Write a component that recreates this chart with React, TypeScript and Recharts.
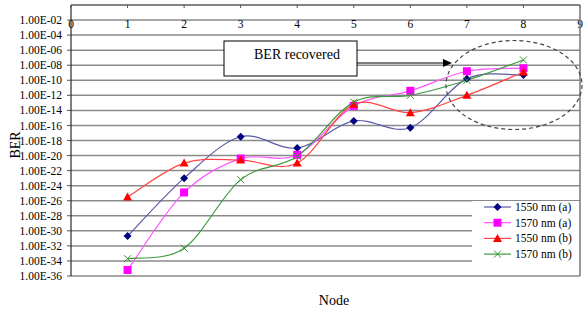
import React from 'react'
import { LineChart, Line, XAxis, YAxis, CartesianGrid, Legend } from 'recharts'

// nodes along the link
const nodes = [1, 2, 3, 4, 5, 6, 7, 8]

// log10(BER) for each node
const ber1550a = [-30.7, -23.0, -17.5, -19.0, -15.4, -16.3, -9.8, -9.3]
const ber1570a = [-35.2, -24.9, -20.4, -19.9, -13.4, -11.4, -8.8, -8.4]
const ber1550b = [-25.5, -21.0, -20.6, -21.0, -13.2, -14.3, -12.0, -8.9]
const ber1570b = [-33.7, -32.3, -23.2, -20.1, -12.9, -12.0, -10.0, -7.3]

const xTicks = [0, 1, 2, 3, 4, 5, 6, 7, 8, 9]
const yTicks = [-36, -34, -32, -30, -28, -26, -24, -22, -20, -18, -16, -14, -12, -10, -8, -6, -4, -2]

const data = nodes.map((node, i) => ({
  node,
  a1550: ber1550a[i],
  a1570: ber1570a[i],
  b1550: ber1550b[i],
  b1570: ber1570b[i],
}))

const series = [
  { key: 'a1550', name: '1550 nm (a)', line: '#5a5aa8', marker: '#000080', shape: 'diamond' },
  { key: 'a1570', name: '1570 nm (a)', line: '#ff55ff', marker: '#ff00ff', shape: 'square' },
  { key: 'b1550', name: '1550 nm (b)', line: '#ff4545', marker: '#ff0000', shape: 'triangle' },
  { key: 'b1570', name: '1570 nm (b)', line: '#3d9a3d', marker: '#339933', shape: 'cross' },
]

const FONT = "'Liberation Serif', 'Times New Roman', serif"

// Excel-like smoothed line (catmull-rom style bezier)
function excelSmooth(context: any) {
  let pts: number[][] = []
  return {
    areaStart() {},
    areaEnd() {},
    lineStart() {
      pts = []
    },
    point(x: number, y: number) {
      pts.push([+x, +y])
    },
    lineEnd() {
      const n = pts.length
      if (!n) return
      context.moveTo(pts[0][0], pts[0][1])
      const t = 1 / 6
      for (let i = 0; i < n - 1; i++) {
        const p0 = pts[Math.max(i - 1, 0)]
        const p1 = pts[i]
        const p2 = pts[i + 1]
        const p3 = pts[Math.min(i + 2, n - 1)]
        context.bezierCurveTo(
          p1[0] + (p2[0] - p0[0]) * t,
          p1[1] + (p2[1] - p0[1]) * t,
          p2[0] - (p3[0] - p1[0]) * t,
          p2[1] - (p3[1] - p1[1]) * t,
          p2[0],
          p2[1]
        )
      }
    },
  }
}

function Marker({ cx, cy, shape, color }: any) {
  if (cx == null || cy == null) return null
  if (shape === 'diamond')
    return <polygon points={`${cx},${cy - 4} ${cx + 4},${cy} ${cx},${cy + 4} ${cx - 4},${cy}`} fill={color} />
  if (shape === 'square') return <rect x={cx - 4} y={cy - 4} width={8} height={8} fill={color} />
  if (shape === 'triangle')
    return <polygon points={`${cx},${cy - 4.5} ${cx + 4.5},${cy + 3.5} ${cx - 4.5},${cy + 3.5}`} fill={color} />
  return (
    <g stroke={color} strokeWidth={1}>
      <line x1={cx - 3.5} y1={cy - 3.5} x2={cx + 3.5} y2={cy + 3.5} />
      <line x1={cx - 3.5} y1={cy + 3.5} x2={cx + 3.5} y2={cy - 3.5} />
    </g>
  )
}

const fmtBer = (v: number) => `1.00E-${String(Math.abs(v)).padStart(2, '0')}`

function TopTick({ x, payload }: any) {
  return (
    <g>
      <line x1={x} x2={x} y1={5} y2={8} stroke="#555" />
      <text x={x} y={28} textAnchor="middle" fontSize={11.5} fontFamily={FONT} fill="#000">
        {payload.value}
      </text>
    </g>
  )
}

function LegendBox() {
  return (
    <div style={{ background: '#fff', width: 108, height: 64, fontFamily: FONT, fontSize: 11.5 }}>
      <svg width={108} height={64}>
        {series.map((s, i) => {
          const y = 6 + i * 15.7
          return (
            <g key={s.key}>
              <line x1={12} x2={39} y1={y} y2={y} stroke={s.line} strokeWidth={1.2} />
              <Marker cx={25.5} cy={y} shape={s.shape} color={s.marker} />
              <text x={43} y={y + 4} fontSize={11.5} fontFamily={FONT} fill="#000">
                {s.name}
              </text>
            </g>
          )
        })}
      </svg>
    </div>
  )
}

export default function App() {
  return (
    <div style={{ position: 'absolute', left: 0, top: 0, width: 584, height: 311, background: '#fff' }}>
      <LineChart width={584} height={311} data={data} margin={{ top: 0, right: 4, bottom: 35, left: 0 }}>
        <CartesianGrid vertical={false} stroke="#8a8a8a" strokeWidth={1.5} />
        <XAxis
          dataKey="node"
          type="number"
          orientation="top"
          domain={[0, 9]}
          ticks={xTicks}
          interval={0}
          height={5}
          axisLine={{ stroke: '#777', strokeWidth: 1.5 }}
          tickLine={false}
          tick={<TopTick />}
        />
        <YAxis
          type="number"
          domain={[-36, 0]}
          ticks={yTicks}
          interval={0}
          width={71}
          tickFormatter={fmtBer}
          tickSize={4}
          tickMargin={5}
          axisLine={{ stroke: '#000' }}
          tickLine={{ stroke: '#555' }}
          tick={{ fill: '#000', fontSize: 11.5, fontFamily: FONT }}
        />
        <Legend
          layout="vertical"
          align="center"
          verticalAlign="middle"
          wrapperStyle={{ position: 'absolute', left: 472, top: 201, width: 108 }}
          content={<LegendBox />}
        />
        {series.map((s) => (
          <Line
            key={s.key}
            dataKey={s.key}
            name={s.name}
            type={excelSmooth as any}
            stroke={s.line}
            strokeWidth={1.2}
            isAnimationActive={false}
            dot={(p: any) => <Marker key={`${s.key}-${p.index}`} cx={p.cx} cy={p.cy} shape={s.shape} color={s.marker} />}
            activeDot={false}
          />
        ))}
      </LineChart>
      <svg width={584} height={311} style={{ position: 'absolute', left: 0, top: 0, pointerEvents: 'none' }}>
        <line x1={580} x2={580} y1={5} y2={276} stroke="#777" strokeWidth={1.5} />
        <rect x={224} y={41} width={133} height={35} fill="#fff" stroke="#000" />
        <text x={297} y={59} textAnchor="middle" fontSize={14} fontFamily={FONT} fill="#000">
          BER recovered
        </text>
        <line x1={357} x2={445} y1={63} y2={63} stroke="#000" strokeWidth={1.2} />
        <polygon points="443,59 452,63 443,67" fill="#000" />
        <ellipse cx={514} cy={85} rx={68} ry={44.5} fill="none" stroke="#444" strokeWidth={1.2} strokeDasharray="4 3" />
        <text x={0} y={0} transform="translate(20,145) rotate(-90)" textAnchor="middle" fontSize={14} fontFamily={FONT} fill="#000">
          BER
        </text>
        <text x={334} y={305} textAnchor="middle" fontSize={14} fontFamily={FONT} fill="#000">
          Node
        </text>
      </svg>
    </div>
  )
}
